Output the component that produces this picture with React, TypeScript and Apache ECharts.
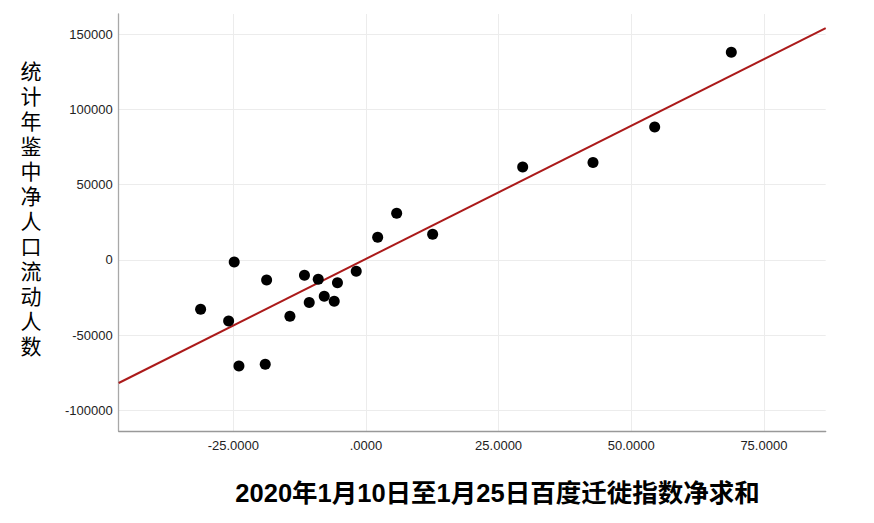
import React, { useEffect, useRef } from "react";
import * as echarts from "echarts";

const xValues = [
  -31.16, -24.83, -25.88, -23.94, -18.98, -18.72, -14.33, -11.59, -10.69, -8.99, -7.86,
  -5.98, -5.37, -1.83, 2.21, 5.79, 12.57, 29.54, 42.79, 54.42, 68.86,
];
const yValues = [
  -32780, -1330, -40560, -70470, -69350, -13300, -37430, -10170, -28260, -12830, -24140,
  -27460, -15090, -7510, 15090, 31050, 17090, 61840, 64830, 88430, 138100,
];
const xTicks = [-25, 0, 25, 50, 75];
const yTicks = [-100000, -50000, 0, 50000, 100000, 150000];
const xRange = [-46.6, 86.65];
const yRange = [-113700, 163500];
const xTitle = "2020年1月10日至1月25日百度迁徙指数净求和";
const yTitle = "统计年鉴中净人口流动人数";

function fitLine(xs: number[], ys: number[]) {
  const n = xs.length;
  const mx = xs.reduce((a, b) => a + b, 0) / n;
  const my = ys.reduce((a, b) => a + b, 0) / n;
  let sxy = 0;
  let sxx = 0;
  for (let i = 0; i < n; i++) {
    sxy += (xs[i] - mx) * (ys[i] - my);
    sxx += (xs[i] - mx) * (xs[i] - mx);
  }
  const slope = sxy / sxx;
  const intercept = my - slope * mx;
  return { slope, intercept };
}

export default function App() {
  const ref = useRef<HTMLDivElement>(null);
  useEffect(() => {
    if (!ref.current) return;
    const chart = echarts.init(ref.current, undefined, { renderer: "svg" });
    const { slope, intercept } = fitLine(xValues, yValues);
    const lineData = xRange.map((x) => [x, slope * x + intercept]);
    const labelFont = {
      fontFamily: "'Liberation Sans', Arial, sans-serif",
      fontSize: 13,
      color: "#222",
    };
    const yTitleChars = yTitle.split("");
    const yTitleTop = 70;
    const yTitleStep = 25;
    chart.setOption({
      animation: false,
      backgroundColor: "#fff",
      grid: { left: 118.7, right: 48.3, top: 14, bottom: 92, containLabel: false },
      xAxis: {
        type: "value",
        min: xRange[0],
        max: xRange[1],
        axisLine: { show: true, onZero: false, lineStyle: { color: "#999", width: 1.3 } },
        axisTick: { show: false, customValues: xTicks },
        axisLabel: {
          ...labelFont,
          margin: 8,
          customValues: xTicks,
          formatter: (v: number) => (v === 0 ? ".0000" : v.toFixed(4)),
        },
        splitLine: { show: true, lineStyle: { color: "#ececec", width: 1 } },
      },
      yAxis: {
        type: "value",
        min: yRange[0],
        max: yRange[1],
        axisLine: { show: true, onZero: false, lineStyle: { color: "#a8a8a8", width: 1.3 } },
        axisTick: { show: false, customValues: yTicks },
        axisLabel: {
          ...labelFont,
          margin: 6,
          customValues: yTicks,
          formatter: (v: number) => String(v),
        },
        splitLine: { show: true, lineStyle: { color: "#ececec", width: 1 } },
      },
      graphic: [
        {
          type: "line",
          shape: { x1: 62, y1: 4.5, x2: 832, y2: 4.5 },
          style: { stroke: "#f3f3f3", lineWidth: 1 },
          silent: true,
        },
        ...yTitleChars.map((ch, i) => ({
          type: "text",
          x: 31,
          y: yTitleTop + i * yTitleStep,
          style: {
            text: ch,
            fontFamily: "'Noto Sans CJK SC', sans-serif",
            fontSize: 21,
            fill: "#000",
            align: "center",
            verticalAlign: "middle",
          },
        })),
        {
          type: "text",
          x: 497.5,
          y: 493,
          style: {
            text: xTitle,
            fontFamily: "'Liberation Sans', 'Noto Sans CJK SC', sans-serif",
            fontWeight: "bold",
            fontSize: 25.5,
            fill: "#000",
            align: "center",
            verticalAlign: "middle",
          },
        },
      ],
      series: [
        {
          type: "line",
          data: lineData,
          showSymbol: false,
          symbol: "none",
          lineStyle: { color: "#ab1a1a", width: 2 },
          z: 2,
        },
        {
          type: "scatter",
          data: xValues.map((x, i) => [x, yValues[i]]),
          symbolSize: 11,
          itemStyle: { color: "#000", opacity: 1 },
          z: 3,
        },
      ],
    });
    return () => chart.dispose();
  }, []);
  return <div ref={ref} style={{ width: 874, height: 523, margin: -8 }} />;
}
